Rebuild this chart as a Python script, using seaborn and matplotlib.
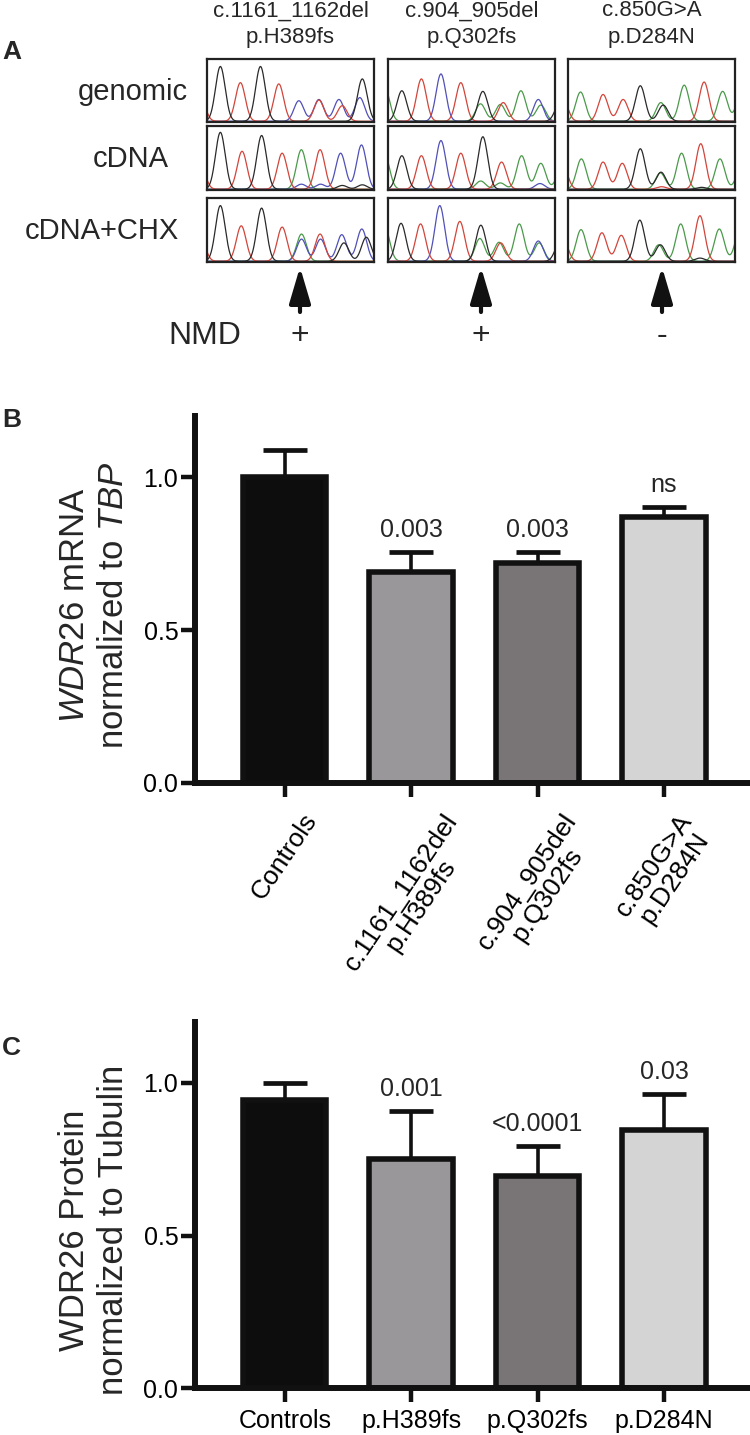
import numpy as np
import pandas as pd
import matplotlib
matplotlib.use("Agg")
import matplotlib.pyplot as plt
import seaborn as sns

# ---------------- data ----------------
CATEGORIES_B = ["Controls", "c.1161_1162del\np.H389fs", "c.904_905del\np.Q302fs", "c.850G>A\np.D284N"]
MRNA_MEAN = [1.0, 0.69, 0.72, 0.87]
MRNA_ERR = [0.088, 0.066, 0.034, 0.034]
MRNA_P = ["", "0.003", "0.003", "ns"]

CATEGORIES_C = ["Controls", "p.H389fs", "p.Q302fs", "p.D284N"]
PROT_MEAN = [0.945, 0.75, 0.695, 0.845]
PROT_ERR = [0.055, 0.157, 0.100, 0.120]
PROT_P = ["", "0.001", "<0.0001", "0.03"]

BAR_COLORS = ["#0d0d0d", "#99979a", "#797576", "#d4d4d4"]

VARIANT_TITLES = ["c.1161_1162del\np.H389fs", "c.904_905del\np.Q302fs", "c.850G>A\np.D284N"]
SAMPLE_ROWS = ["genomic", "cDNA", "cDNA+CHX"]
NMD_STATUS = ["+", "+", "-"]

# chromatogram peaks: (base, position in box, height in box)
PEAKS_GEN_H389 = [("T", -0.04, 0.40), ("G", 0.08, 0.88), ("T", 0.20, 0.62), ("G", 0.32, 0.88), ("T", 0.43, 0.60),
                  ("C", 0.55, 0.33), ("T", 0.67, 0.34), ("C", 0.67, 0.35), ("C", 0.79, 0.35), ("T", 0.81, 0.25),
                  ("G", 0.93, 0.68), ("C", 0.915, 0.38)]
PEAKS_CDNA_H389 = [("T", -0.04, 0.40), ("G", 0.08, 0.90), ("T", 0.21, 0.60), ("G", 0.327, 0.85), ("T", 0.45, 0.57),
                   ("A", 0.565, 0.625), ("T", 0.677, 0.625), ("C", 0.80, 0.57), ("C", 0.925, 0.70),
                   ("C", 0.565, 0.08), ("C", 0.68, 0.08), ("G", 0.81, 0.06), ("G", 0.93, 0.07)]
PEAKS_CHX_H389 = [("T", -0.04, 0.40), ("G", 0.08, 0.88), ("T", 0.205, 0.56), ("G", 0.327, 0.84), ("T", 0.45, 0.54),
                  ("A", 0.566, 0.43), ("C", 0.566, 0.35), ("T", 0.677, 0.43), ("C", 0.68, 0.35),
                  ("C", 0.807, 0.42), ("G", 0.82, 0.29), ("C", 0.927, 0.51), ("G", 0.954, 0.38)]

PEAKS_GEN_Q302 = [("A", -0.02, 0.55), ("G", 0.083, 0.49), ("T", 0.20, 0.68), ("C", 0.317, 0.76), ("T", 0.436, 0.62),
                  ("G", 0.568, 0.48), ("A", 0.554, 0.28), ("A", 0.673, 0.27), ("T", 0.69, 0.30),
                  ("A", 0.796, 0.49), ("C", 0.90, 0.35), ("A", 0.915, 0.26), ("G", 1.03, 0.30)]
PEAKS_CDNA_Q302 = [("A", -0.02, 0.55), ("G", 0.083, 0.53), ("T", 0.20, 0.53), ("C", 0.317, 0.77), ("T", 0.436, 0.57),
                   ("G", 0.568, 0.83), ("A", 0.555, 0.13), ("T", 0.68, 0.43), ("A", 0.673, 0.10),
                   ("A", 0.80, 0.53), ("A", 0.915, 0.41), ("C", 0.91, 0.09), ("A", 1.04, 0.35)]
PEAKS_CHX_Q302 = [("A", -0.02, 0.55), ("G", 0.078, 0.60), ("T", 0.195, 0.59), ("C", 0.31, 0.88), ("T", 0.43, 0.63),
                  ("G", 0.556, 0.57), ("A", 0.55, 0.36), ("A", 0.665, 0.30), ("T", 0.675, 0.29),
                  ("A", 0.786, 0.59), ("C", 0.90, 0.32), ("A", 0.905, 0.29), ("G", 1.03, 0.30)]

PEAKS_GEN_D284 = [("T", -0.03, 0.35), ("A", 0.075, 0.47), ("T", 0.21, 0.43), ("T", 0.33, 0.35), ("G", 0.433, 0.57),
                  ("A", 0.556, 0.30), ("G", 0.57, 0.26), ("A", 0.696, 0.58), ("T", 0.815, 0.63),
                  ("A", 0.926, 0.48), ("A", 1.04, 0.50)]
PEAKS_CDNA_D284 = [("T", -0.03, 0.35), ("A", 0.08, 0.48), ("T", 0.21, 0.43), ("T", 0.325, 0.41), ("G", 0.433, 0.64),
                   ("A", 0.553, 0.26), ("G", 0.557, 0.27), ("T", 0.56, 0.04), ("A", 0.68, 0.57),
                   ("T", 0.795, 0.72), ("G", 0.80, 0.03), ("A", 0.91, 0.48), ("A", 1.04, 0.40)]
PEAKS_CHX_D284 = [("T", -0.03, 0.35), ("A", 0.078, 0.50), ("T", 0.203, 0.45), ("T", 0.319, 0.41), ("G", 0.43, 0.65),
                  ("A", 0.543, 0.26), ("G", 0.553, 0.26), ("A", 0.675, 0.59), ("T", 0.79, 0.72),
                  ("G", 0.79, 0.05), ("A", 0.906, 0.51), ("A", 1.03, 0.50)]

CHROMATOGRAMS = [[PEAKS_GEN_H389, PEAKS_GEN_Q302, PEAKS_GEN_D284],
                 [PEAKS_CDNA_H389, PEAKS_CDNA_Q302, PEAKS_CDNA_D284],
                 [PEAKS_CHX_H389, PEAKS_CHX_Q302, PEAKS_CHX_D284]]

BASE_COLORS = {"A": "#4a9a4a", "C": "#5050b8", "G": "#2a2a2a", "T": "#d2453a"}

# ---------------- style ----------------
sns.set_style("white")
plt.rcParams["font.family"] = ["Liberation Sans", "DejaVu Sans"]
plt.rcParams["mathtext.fontset"] = "custom"
plt.rcParams["mathtext.rm"] = "Liberation Sans"
plt.rcParams["mathtext.it"] = "Liberation Sans:italic"

W, H = 750, 1435
fig = plt.figure(figsize=(W / 100, H / 100), dpi=100)
fig.patch.set_facecolor("white")


def rect(x0, y0, x1, y1):
    return [x0 / W, 1 - y1 / H, (x1 - x0) / W, (y1 - y0) / H]


def fx(x):
    return x / W


def fy(y):
    return 1 - y / H


INK = "#111111"

# ---------------- panel A ----------------
COL_X = [(207, 374), (388, 555), (568, 735)]
ROW_Y = [(59, 122), (126, 190), (198, 262)]
SIGMA = 0.029
grid = np.linspace(-0.1, 1.1, 700)

for r, (y0, y1) in enumerate(ROW_Y):
    for c, (x0, x1) in enumerate(COL_X):
        ax = fig.add_axes(rect(x0, y0, x1, y1))
        peaks = CHROMATOGRAMS[r][c]
        for base in ["A", "C", "T", "G"]:
            sel = [(p, h) for b, p, h in peaks if b == base]
            yy = np.zeros_like(grid)
            for p, h in sel:
                yy += h * np.exp(-((grid - p) ** 2) / (2 * SIGMA ** 2))
            sns.lineplot(x=grid, y=yy, ax=ax, color=BASE_COLORS[base], lw=0.9, estimator=None, sort=False)
        ax.set_xlim(0, 1)
        ax.set_ylim(-0.012, 1.0)
        ax.set_xticks([])
        ax.set_yticks([])
        for s in ax.spines.values():
            s.set_visible(True)
            s.set_linewidth(1.6)
            s.set_color("#222222")

# column titles
for c, (x0, x1) in enumerate(COL_X):
    l1, l2 = VARIANT_TITLES[c].split("\n")
    fig.text(fx((x0 + x1) / 2), fy(11), l1, ha="center", va="center", fontsize=16)
    fig.text(fx((x0 + x1) / 2), fy(37), l2, ha="center", va="center", fontsize=16)

# row labels
ROW_LABEL_X = [133, 131, 102]
for r, (y0, y1) in enumerate(ROW_Y):
    fig.text(fx(ROW_LABEL_X[r]), fy((y0 + y1) / 2 + 1), SAMPLE_ROWS[r], ha="center", va="center", fontsize=21)

# arrows and NMD row
ov = fig.add_axes([0, 0, 1, 1])
ov.set_xlim(0, W)
ov.set_ylim(H, 0)
ov.axis("off")
ov.patch.set_alpha(0)
ARROW_X = [300, 481, 662]
for i, xa in enumerate(ARROW_X):
    ov.annotate("", xy=(xa, 267), xytext=(xa, 312),
                arrowprops=dict(arrowstyle="-|>,head_length=2.2,head_width=0.65", lw=3, color=INK,
                                shrinkA=0, shrinkB=0))
    ov.text(xa, 336, NMD_STATUS[i], ha="center", va="center", fontsize=23)
ov.text(205, 336, "NMD", ha="center", va="center", fontsize=23)

# panel letters
fig.text(fx(2), fy(52), "A", ha="left", va="center", fontsize=19, fontweight="bold")
fig.text(fx(2), fy(420), "B", ha="left", va="center", fontsize=19, fontweight="bold")
fig.text(fx(2), fy(1048), "C", ha="left", va="center", fontsize=19, fontweight="bold")


# ---------------- bar panels ----------------
def bar_panel(box, cats, means, errs, pvals, xlim, rot_labels):
    ax = fig.add_axes(box)
    df = pd.DataFrame({"group": cats, "value": means})
    sns.barplot(data=df, x="group", y="value", hue="group", palette=BAR_COLORS, legend=False,
                width=0.66, edgecolor=INK, linewidth=4, saturation=1, errorbar=None, ax=ax, zorder=2)
    xs = np.arange(len(cats))
    ax.errorbar(xs, means, yerr=[np.zeros(len(cats)), errs], fmt="none", ecolor=INK,
                elinewidth=2.6, capsize=16, capthick=3.4, zorder=1.5)
    for x, m, e, p in zip(xs, means, errs, pvals):
        if p:
            ax.text(x, m + e + 0.072, p, ha="center", va="center", fontsize=18)
    ax.set_ylim(0, 1.2)
    ax.set_xlim(*xlim)
    ax.set_yticks([0.0, 0.5, 1.0])
    ax.set_yticklabels(["0.0", "0.5", "1.0"])
    ax.set_xticks(xs)
    if rot_labels:
        ax.set_xticklabels(cats, rotation=56, ha="center", va="top", fontsize=19, linespacing=1.0)
        ax.tick_params(axis="x", pad=9)
    else:
        ax.set_xticklabels(cats, fontsize=18)
        ax.tick_params(axis="x", pad=5)
    ax.tick_params(axis="both", which="major", length=10, width=3.2, color=INK, labelcolor="black",
                   direction="out", bottom=True, left=True)
    ax.tick_params(axis="y", labelsize=18, pad=2)
    ax.set_xlabel("")
    ax.set_ylabel("")
    sns.despine(ax=ax)
    for s in ["left", "bottom"]:
        ax.spines[s].set_linewidth(4.3)
        ax.spines[s].set_color(INK)
    ax.patch.set_alpha(0)
    return ax


XLIM = (-0.71, 3.68)
axB = bar_panel(rect(195, 416, 750, 783), CATEGORIES_B, MRNA_MEAN, MRNA_ERR, MRNA_P, XLIM, True)
axC = bar_panel(rect(195, 1022, 750, 1388), CATEGORIES_C, PROT_MEAN, PROT_ERR, PROT_P, XLIM, False)

fig.text(fx(94), fy(605), "$\\mathit{WDR26}$ mRNA\nnormalized to $\\mathit{TBP}$",
         rotation=90, ha="center", va="center", fontsize=25, linespacing=1.2)
fig.text(fx(94), fy(1230), "WDR26 Protein\nnormalized to Tubulin",
         rotation=90, ha="center", va="center", fontsize=25, linespacing=1.2)

fig.savefig("out.png", dpi=100, facecolor="white")
